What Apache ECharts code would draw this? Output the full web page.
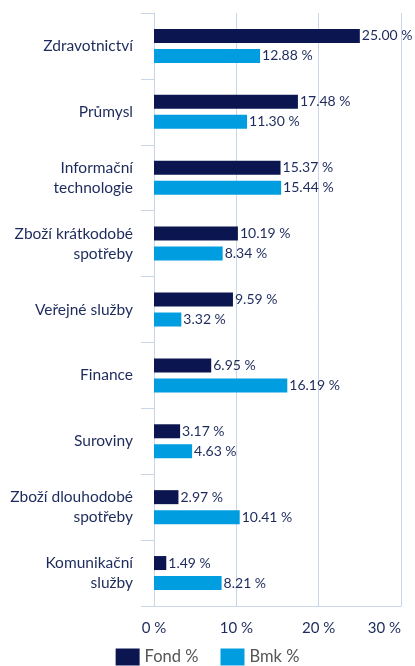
<!DOCTYPE html>
<html>
<head>
<meta charset="utf-8">
<script src="https://cdn.jsdelivr.net/npm/echarts@6/dist/echarts.min.js"></script>
<style>
  html, body { margin: 0; padding: 0; background: #fff; }
  #chart { width: 415px; height: 666px; }
</style>
</head>
<body>
<div id="chart"></div>
<script>
// sector weights, fund vs benchmark
var categories = ['Zdravotnictví', 'Průmysl', 'Informační\ntechnologie', 'Zboží krátkodobé\nspotřeby',
                  'Veřejné služby', 'Finance', 'Suroviny', 'Zboží dlouhodobé\nspotřeby', 'Komunikační\nslužby'];
var fondValues = [25.00, 17.48, 15.37, 10.19, 9.59, 6.95, 3.17, 2.97, 1.49];
var bmkValues = [12.88, 11.30, 15.44, 8.34, 3.32, 16.19, 4.63, 10.41, 8.21];
var seriesNames = ['Fond %', 'Bmk %'];

var navy = '#0b1650';
var blue = '#009ee0';
var gridColor = '#c9d5e8';
var textColor = '#1d2b5c';
var font = 'Lato';

var chart = echarts.init(document.getElementById('chart'));

function barLabel() {
    return {
        show: true,
        position: 'right',
        distance: 2,
        color: textColor,
        fontFamily: font,
        fontSize: 14,
        formatter: function (p) { return p.value.toFixed(2) + ' %'; }
    };
}

chart.setOption({
    animation: false,
    textStyle: { fontFamily: font },
    grid: { left: 154, right: 14, top: 13, bottom: 60 },
    legend: {
        top: 648,
        left: 'center',
        padding: 0,
        icon: 'rect',
        itemWidth: 24,
        itemHeight: 17,
        itemGap: 22,
        textStyle: { color: '#555', fontSize: 16.5, fontFamily: font, lineHeight: 18 },
        data: seriesNames
    },
    xAxis: {
        type: 'value',
        min: 0,
        max: 30,
        interval: 10,
        axisLine: { show: true, lineStyle: { color: gridColor } },
        axisTick: { show: false },
        splitLine: { lineStyle: { color: gridColor } },
        axisLabel: { formatter: '{value} %', color: textColor, fontSize: 15, margin: 15,
                     fontFamily: font, alignMaxLabel: 'right' }
    },
    yAxis: {
        type: 'category',
        inverse: true,
        data: categories,
        axisLine: { show: true, lineStyle: { color: gridColor } },
        axisTick: { show: true, length: 13, interval: 0, lineStyle: { color: gridColor } },
        axisLabel: { color: textColor, fontSize: 15.5, margin: 21, lineHeight: 20, fontFamily: font, interval: 0 }
    },
    series: [
        {
            name: seriesNames[0],
            type: 'bar',
            data: fondValues,
            barWidth: 14,
            barGap: '43%',
            itemStyle: { color: navy },
            label: barLabel()
        },
        {
            name: seriesNames[1],
            type: 'bar',
            data: bmkValues,
            barWidth: 14,
            barGap: '43%',
            itemStyle: { color: blue },
            label: barLabel()
        }
    ]
});
</script>
</body>
</html>
